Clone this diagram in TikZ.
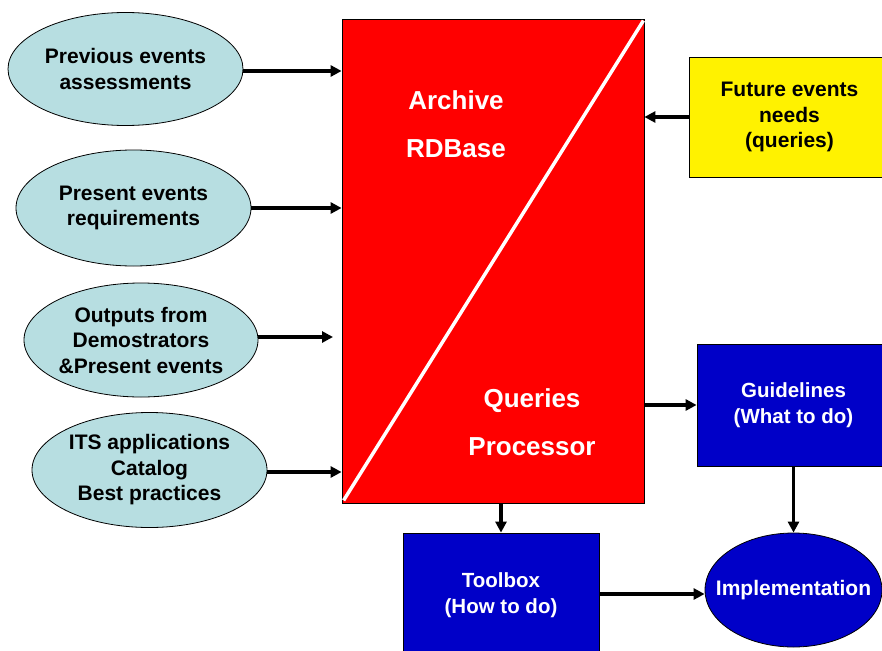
\documentclass[tikz,border=0pt]{standalone}
\usepackage{fontspec}
\setmainfont{Liberation Sans}
\usetikzlibrary{shapes.geometric,arrows.meta}
\definecolor{ellblue}{RGB}{183,222,225}
\definecolor{dblue}{RGB}{0,0,200}
\tikzset{
  ell/.style={ellipse,draw=black,line width=0.8pt,fill=ellblue,inner sep=0pt,align=center,
    font=\fontsize{21}{25.5}\selectfont\bfseries},
  bbox/.style={rectangle,draw=black,line width=0.8pt,fill=dblue,inner sep=0pt,align=center,text=white,
    font=\fontsize{20.5}{26}\selectfont\bfseries},
  ybox/.style={rectangle,draw=black,line width=0.8pt,fill=yellow,inner sep=0pt,align=center,
    font=\fontsize{21}{25.5}\selectfont\bfseries},
  bigtxt/.style={align=center,text=white,inner sep=0pt,font=\fontsize{26}{48}\selectfont\bfseries},
  arr/.style={line width=3.4pt,-{Triangle[length=11pt,width=11pt]}}
}
\begin{document}
\begin{tikzpicture}[x=1pt,y=-1pt]
\clip (0,0) rectangle (882,650);
\fill[white] (0,0) rectangle (882,650);
% red main box
\node[rectangle,draw=black,line width=0.8pt,fill=red,minimum width=302pt,minimum height=484pt,inner sep=0pt] (rdb) at (493,261) {};
\draw[white,line width=3.5pt] ([shift={(2,-3)}]rdb.south west) -- ([shift={(-1,2)}]rdb.north east);
\node[bigtxt] (arch) at (456,124) {Archive\\RDBase};
\node[bigtxt] (qp) at (532,422) {Queries\\Processor};
% input ellipses
\node[ell,minimum width=235pt,minimum height=113pt] (e1) at (125.5,69) {Previous events\\assessments};
\node[ell,minimum width=235pt,minimum height=116pt] (e2) at (133.5,208) {Present events\\requirements};
\node[ell,minimum width=234pt,minimum height=114pt] (e3) at (141,340) {Outputs from\\Demostrators\\\&Present events};
\node[ell,minimum width=235pt,minimum height=115pt] (e4) at (149.5,470) {ITS applications\\Catalog\\Best practices};
% right side
\node[ybox,minimum width=201pt,minimum height=120pt] (fut) at (789.5,117) {Future events\\needs\\(queries)};
\node[bbox,minimum width=193pt,minimum height=122pt] (gl) at (793.5,405) {Guidelines\\(What to do)};
\node[bbox,minimum width=196pt,minimum height=124pt] (tb) at (501,595) {Toolbox\\(How to do)};
\node[ellipse,draw=black,line width=0.8pt,fill=dblue,inner sep=0pt,minimum width=177pt,minimum height=114pt,
  label={[text=white,inner sep=0pt,font=\fontsize{21}{25}\selectfont\bfseries]center:Implementation}] (impl) at (793.5,590) {};
\coordinate (c3) at (333,337);
% connectors
\draw[arr] (e1.east |- 0,71) -- (rdb.west |- 0,71);
\draw[arr] (e2.east) -- (e2.east -| rdb.west);
\draw[arr] (e3.east |- c3) -- (c3);
\draw[arr] (e4.east |- 0,472) -- (rdb.west |- 0,472);
\draw[arr] (fut.west) -- (fut.west -| rdb.east);
\draw[arr] (rdb.east |- gl.west) -- (gl.west);
\draw[arr] (rdb.south -| tb.north) -- (tb.north);
\draw[arr] (gl.south) -- (gl.south |- impl.north);
\draw[arr] (tb.east |- 0,594) -- (impl.west |- 0,594);
\end{tikzpicture}
\end{document}
